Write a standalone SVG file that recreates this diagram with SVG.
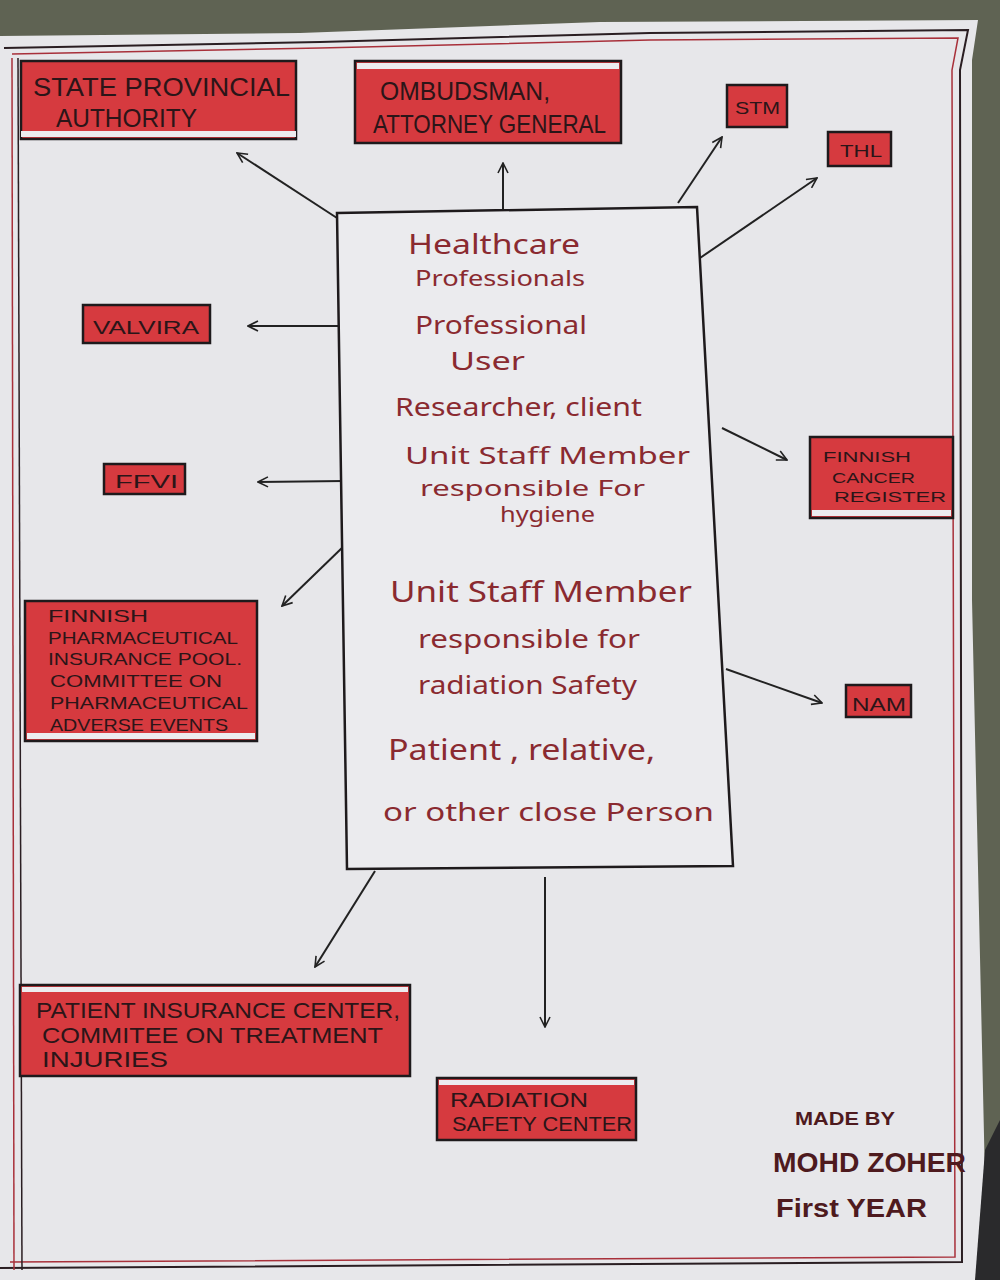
<svg xmlns="http://www.w3.org/2000/svg" width="1000" height="1280" viewBox="0 0 1000 1280">
<style>
.box{fill:#d63a3f;stroke:#1e1a1c;stroke-width:2.5}
.bt{font-family:"Liberation Sans",Arial,sans-serif;fill:#2b1518}
.ct{font-family:"Noto Sans","DejaVu Sans",sans-serif;fill:#8a2a30}
.con{stroke:#222;stroke-width:2;fill:none}
.sig{font-family:"Liberation Sans",Arial,sans-serif;fill:#4e1a1e;font-weight:bold}
.gap{fill:#ececef}
</style>
<defs>
<marker id="ah" viewBox="0 0 12 12" refX="11" refY="6" markerWidth="12" markerHeight="12" markerUnits="userSpaceOnUse" orient="auto">
<path d="M1,1 L11,6 L1,11" fill="none" stroke="#222" stroke-width="1.6"/>
</marker>
</defs>
<rect width="1000" height="1280" fill="#5f6353"/>
<path d="M0,36 L300,33 L600,22 L978,20 L972,60 L972,600 L985,1180 L1000,1280 L0,1280 Z" fill="#e7e7ea"/>
<path d="M985,1150 L1000,1120 L1000,1280 L975,1280 Z" fill="#2a2a2c"/>
<g id="border" fill="none">
<path d="M4,48 L320,42 L650,33 L968,30 L960,70 L962,1262 L0,1268" stroke="#2a1e22" stroke-width="2"/>
<path d="M12,54 L320,48 L650,40 L958,38 L952,70 L955,1257 L10,1262" stroke="#a8303a" stroke-width="1.5"/>
<path d="M18,58 L22,1270" stroke="#2a1e22" stroke-width="1.5"/>
<path d="M12,58 L14,1270" stroke="#a8303a" stroke-width="1.5"/>
</g>

<g id="connectors">
<line class="con" x1="337" y1="218" x2="237" y2="153" marker-end="url(#ah)"/>
<line class="con" x1="503" y1="210" x2="503" y2="163" marker-end="url(#ah)"/>
<line class="con" x1="678" y1="203" x2="722" y2="137" marker-end="url(#ah)"/>
<line class="con" x1="700" y1="258" x2="817" y2="178" marker-end="url(#ah)"/>
<line class="con" x1="340" y1="326" x2="248" y2="326" marker-end="url(#ah)"/>
<line class="con" x1="344" y1="481" x2="258" y2="482" marker-end="url(#ah)"/>
<line class="con" x1="345" y1="545" x2="282" y2="606" marker-end="url(#ah)"/>
<line class="con" x1="722" y1="428" x2="787" y2="460" marker-end="url(#ah)"/>
<line class="con" x1="726" y1="669" x2="822" y2="703" marker-end="url(#ah)"/>
<line class="con" x1="375" y1="871" x2="315" y2="967" marker-end="url(#ah)"/>
<line class="con" x1="545" y1="877" x2="545" y2="1027" marker-end="url(#ah)"/>
</g>

<g id="center">
<path d="M337,213 L697,207 L733,866 L347,869 Z" fill="#ebebee" stroke="#1e1a1c" stroke-width="2.5"/>
<text class="ct" x="408" y="254" font-size="28" textLength="172" lengthAdjust="spacingAndGlyphs">Healthcare</text>
<text class="ct" x="415" y="286" font-size="21" textLength="170" lengthAdjust="spacingAndGlyphs">Professionals</text>
<text class="ct" x="415" y="334" font-size="25" textLength="172" lengthAdjust="spacingAndGlyphs">Professional</text>
<text class="ct" x="450" y="370" font-size="25" textLength="75" lengthAdjust="spacingAndGlyphs">User</text>
<text class="ct" x="395" y="416" font-size="25" textLength="247" lengthAdjust="spacingAndGlyphs">Researcher, client</text>
<text class="ct" x="405" y="464" font-size="24" textLength="285" lengthAdjust="spacingAndGlyphs">Unit  Staff  Member</text>
<text class="ct" x="420" y="496" font-size="21" textLength="225" lengthAdjust="spacingAndGlyphs">responsible  For</text>
<text class="ct" x="500" y="522" font-size="21" textLength="95" lengthAdjust="spacingAndGlyphs">hygiene</text>
<text class="ct" x="390" y="602" font-size="29" textLength="302" lengthAdjust="spacingAndGlyphs">Unit  Staff  Member</text>
<text class="ct" x="418" y="648" font-size="25" textLength="222" lengthAdjust="spacingAndGlyphs">responsible  for</text>
<text class="ct" x="418" y="694" font-size="25" textLength="219" lengthAdjust="spacingAndGlyphs">radiation  Safety</text>
<text class="ct" x="388" y="760" font-size="29" textLength="267" lengthAdjust="spacingAndGlyphs">Patient , relative,</text>
<text class="ct" x="383" y="821" font-size="26" textLength="331" lengthAdjust="spacingAndGlyphs">or  other  close  Person</text>
</g>

<g id="state">
<rect class="box" x="21" y="61" width="275" height="78"/>
<rect class="gap" x="21" y="131" width="275" height="6"/>
<text class="bt" x="33" y="96" font-size="25" textLength="257" lengthAdjust="spacingAndGlyphs">STATE PROVINCIAL</text>
<text class="bt" x="56" y="127" font-size="25" textLength="141" lengthAdjust="spacingAndGlyphs">AUTHORITY</text>
</g>
<g id="ombudsman">
<rect class="box" x="355" y="61" width="266" height="82"/>
<rect class="gap" x="357" y="63" width="262" height="6"/>
<text class="bt" x="380" y="100" font-size="25" textLength="170" lengthAdjust="spacingAndGlyphs">OMBUDSMAN,</text>
<text class="bt" x="373" y="133" font-size="25" textLength="233" lengthAdjust="spacingAndGlyphs">ATTORNEY GENERAL</text>
</g>
<g id="stm">
<rect class="box" x="727" y="85" width="60" height="42"/>
<text class="bt" x="735" y="114" font-size="17" textLength="45" lengthAdjust="spacingAndGlyphs">STM</text>
</g>
<g id="thl">
<rect class="box" x="828" y="132" width="63" height="34"/>
<text class="bt" x="840" y="157" font-size="16" textLength="42" lengthAdjust="spacingAndGlyphs">THL</text>
</g>
<g id="valvira">
<rect class="box" x="83" y="305" width="127" height="38"/>
<text class="bt" x="93" y="334" font-size="19" textLength="106" lengthAdjust="spacingAndGlyphs">VALVIRA</text>
</g>
<g id="ffvi">
<rect class="box" x="104" y="464" width="81" height="30"/>
<text class="bt" x="115" y="488" font-size="18" textLength="63" lengthAdjust="spacingAndGlyphs">FFVI</text>
</g>
<g id="cancer">
<rect class="box" x="810" y="437" width="143" height="81"/>
<rect class="gap" x="812" y="510" width="139" height="6"/>
<text class="bt" x="823" y="462" font-size="15" textLength="88" lengthAdjust="spacingAndGlyphs">FINNISH</text>
<text class="bt" x="832" y="483" font-size="15" textLength="83" lengthAdjust="spacingAndGlyphs">CANCER</text>
<text class="bt" x="834" y="502" font-size="15" textLength="112" lengthAdjust="spacingAndGlyphs">REGISTER</text>
</g>
<g id="nam">
<rect class="box" x="846" y="685" width="65" height="32"/>
<text class="bt" x="852" y="711" font-size="18" textLength="54" lengthAdjust="spacingAndGlyphs">NAM</text>
</g>
<g id="pharma">
<rect class="box" x="25" y="601" width="232" height="140"/>
<rect class="gap" x="27" y="733" width="228" height="6"/>
<text class="bt" x="48" y="622" font-size="17" textLength="100" lengthAdjust="spacingAndGlyphs">FINNISH</text>
<text class="bt" x="48" y="644" font-size="17" textLength="190" lengthAdjust="spacingAndGlyphs">PHARMACEUTICAL</text>
<text class="bt" x="48" y="665" font-size="17" textLength="194" lengthAdjust="spacingAndGlyphs">INSURANCE POOL.</text>
<text class="bt" x="50" y="687" font-size="17" textLength="172" lengthAdjust="spacingAndGlyphs">COMMITTEE ON</text>
<text class="bt" x="50" y="709" font-size="17" textLength="198" lengthAdjust="spacingAndGlyphs">PHARMACEUTICAL</text>
<text class="bt" x="50" y="731" font-size="17" textLength="178" lengthAdjust="spacingAndGlyphs">ADVERSE EVENTS</text>
</g>
<g id="patient-insurance">
<rect class="box" x="20" y="985" width="390" height="91"/>
<rect class="gap" x="22" y="987" width="386" height="5"/>
<text class="bt" x="36" y="1018" font-size="22" textLength="364" lengthAdjust="spacingAndGlyphs">PATIENT INSURANCE CENTER,</text>
<text class="bt" x="42" y="1043" font-size="22" textLength="341" lengthAdjust="spacingAndGlyphs">COMMITEE ON TREATMENT</text>
<text class="bt" x="42" y="1067" font-size="22" textLength="126" lengthAdjust="spacingAndGlyphs">INJURIES</text>
</g>
<g id="radiation-center">
<rect class="box" x="437" y="1078" width="199" height="62"/>
<rect class="gap" x="439" y="1080" width="195" height="5"/>
<text class="bt" x="450" y="1107" font-size="20" textLength="138" lengthAdjust="spacingAndGlyphs">RADIATION</text>
<text class="bt" x="452" y="1131" font-size="20" textLength="180" lengthAdjust="spacingAndGlyphs">SAFETY CENTER</text>
</g>
<g id="signature">
<text class="sig" x="795" y="1125" font-size="19" textLength="100" lengthAdjust="spacingAndGlyphs">MADE BY</text>
<text class="sig" x="773" y="1172" font-size="28" textLength="193" lengthAdjust="spacingAndGlyphs">MOHD ZOHER</text>
<text class="sig" x="776" y="1217" font-size="26" textLength="151" lengthAdjust="spacingAndGlyphs">First YEAR</text>
</g>
</svg>
